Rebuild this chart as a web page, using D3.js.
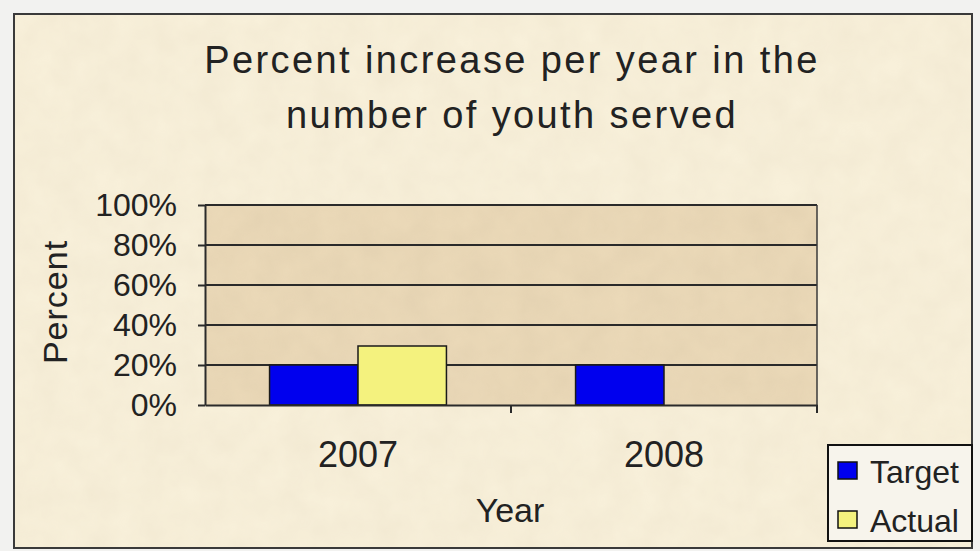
<!DOCTYPE html>
<html>
<head>
<meta charset="utf-8">
<script src="https://cdn.jsdelivr.net/npm/d3@7"></script>
<style>
  html, body { margin: 0; padding: 0; background: #f2f2f0; }
  svg { display: block; font-family: "Liberation Sans", Arial, sans-serif; }
</style>
</head>
<body>
<div id="chart"></div>
<script>
const years = ["2007", "2008"];
const seriesNames = ["Target", "Actual"];
const targetValues = [20, 20];
const actualValues = [29.5, 0];
const yTicks = [0, 20, 40, 60, 80, 100];
const seriesColors = ["#0000ee", "#f4f27e"];

const W = 980, H = 551;
const svg = d3.select("#chart").append("svg")
  .attr("width", W).attr("height", H);

// paper texture
const defs = svg.append("defs");
const paper = defs.append("filter").attr("id", "paper")
  .attr("x", 0).attr("y", 0).attr("width", "100%").attr("height", "100%");
paper.append("feTurbulence").attr("type", "fractalNoise")
  .attr("baseFrequency", 0.035).attr("numOctaves", 3).attr("seed", 4).attr("result", "n");
paper.append("feColorMatrix").attr("in", "n").attr("type", "matrix")
  .attr("values", "0 0 0 0 0.55  0 0 0 0 0.45  0 0 0 0 0.3  0 0 0 0.35 -0.05");

// outer frame
svg.append("rect").attr("x", 14).attr("y", 14).attr("width", 958).attr("height", 534)
  .attr("fill", "#f8f0da").attr("stroke", "#3a3a3a").attr("stroke-width", 2);
svg.append("rect").attr("x", 15).attr("y", 15).attr("width", 956).attr("height", 532)
  .attr("filter", "url(#paper)").attr("opacity", 0.35);

const margin = { top: 205, left: 205, right: 163, bottom: 146 };
const plotW = W - margin.left - margin.right;
const plotH = H - margin.top - margin.bottom;

const g = svg.append("g").attr("transform", `translate(${margin.left},${margin.top})`);

// Scales
const x0 = d3.scaleBand().domain(years).range([0, plotW]).padding(0);
const x1 = d3.scaleBand().domain(seriesNames).range([0, x0.bandwidth()])
  .paddingInner(0).paddingOuter(0.73);
const y = d3.scaleLinear().domain([0, 100]).range([plotH, 0]);

// plot area
g.append("rect").attr("width", plotW).attr("height", plotH).attr("fill", "#ebd9b8");
g.append("rect").attr("width", plotW).attr("height", plotH)
  .attr("filter", "url(#paper)").attr("opacity", 0.6);

// gridlines
g.append("g")
  .selectAll("line").data(yTicks.filter(d => d > 0)).enter().append("line")
  .attr("x1", 0).attr("x2", plotW)
  .attr("y1", d => y(d)).attr("y2", d => y(d))
  .attr("stroke", "#2a2a2a").attr("stroke-width", 2);

g.append("line").attr("x1", plotW).attr("x2", plotW).attr("y1", 0).attr("y2", plotH)
  .attr("stroke", "#3a3a3a").attr("stroke-width", 1.5);

// Bars
const table = years.map((yr, i) => ({ year: yr, values: [targetValues[i], actualValues[i]] }));
const groups = g.selectAll(".grp").data(table).enter().append("g")
  .attr("transform", d => `translate(${x0(d.year)},0)`);
groups.selectAll("rect").data(d => d.values.map((v, j) => ({ key: seriesNames[j], v, j })))
  .enter().filter(d => d.v > 0).append("rect")
  .attr("x", d => x1(d.key))
  .attr("y", d => y(d.v))
  .attr("width", x1.bandwidth())
  .attr("height", d => y(0) - y(d.v))
  .attr("fill", d => seriesColors[d.j])
  .attr("stroke", "#1a1a1a").attr("stroke-width", 1.5);

// Axes
const yAxis = g.append("g")
  .call(d3.axisLeft(y).tickValues(yTicks).tickFormat(d => d + "%").tickSize(7).tickSizeOuter(0));
yAxis.select(".domain").attr("stroke", "#2a2a2a").attr("stroke-width", 2);
yAxis.selectAll(".tick line").attr("stroke", "#2a2a2a").attr("stroke-width", 2);
yAxis.selectAll("text").attr("x", -28).attr("fill", "#222")
  .style("font-size", "32px").style("letter-spacing", "0px");

const xAxis = g.append("g").attr("transform", `translate(0,${plotH})`)
  .call(d3.axisBottom(x0).tickSize(0).tickSizeOuter(0));
xAxis.select(".domain").attr("stroke", "#2a2a2a").attr("stroke-width", 2);
xAxis.selectAll("text").attr("y", 62).attr("dy", 0).attr("fill", "#222").style("font-size", "36px");
g.append("g").selectAll("line").data(years.slice(1).concat(["end"])).enter().append("line")
  .attr("x1", d => d === "end" ? plotW : x0(d)).attr("x2", d => d === "end" ? plotW : x0(d))
  .attr("y1", plotH).attr("y2", plotH + 8)
  .attr("stroke", "#2a2a2a").attr("stroke-width", 2);

// Title
const title = svg.append("text").attr("x", 512).attr("text-anchor", "middle")
  .attr("fill", "#222").style("font-size", "38px").style("letter-spacing", "2.4px");
title.append("tspan").attr("x", 512).attr("y", 73).text("Percent increase per year in the");
title.append("tspan").attr("x", 512).attr("y", 128).text("number of youth served");

// Axis titles
svg.append("text").attr("x", 510).attr("y", 522).attr("text-anchor", "middle")
  .attr("fill", "#222").style("font-size", "34px").text("Year");
svg.append("text").attr("transform", "translate(67,302) rotate(-90)")
  .attr("text-anchor", "middle").attr("fill", "#222").style("font-size", "34px")
  .style("letter-spacing", "1px").text("Percent");

// Legend
const leg = svg.append("g").attr("transform", "translate(828,445)");
leg.append("rect").attr("width", 144).attr("height", 96)
  .attr("fill", "#f7f4ec").attr("stroke", "#111").attr("stroke-width", 2);
const li = leg.selectAll(".li").data(seriesNames).enter().append("g")
  .attr("transform", (d, i) => `translate(0,${38 + i * 49})`);
li.append("rect").attr("x", 10).attr("y", -21).attr("width", 19).attr("height", 17)
  .attr("fill", (d, i) => seriesColors[i]).attr("stroke", "#111").attr("stroke-width", 1.5);
li.append("text").attr("x", 42).attr("y", 0).attr("fill", "#222")
  .style("font-size", "32px").text(d => d);
</script>
</body>
</html>
